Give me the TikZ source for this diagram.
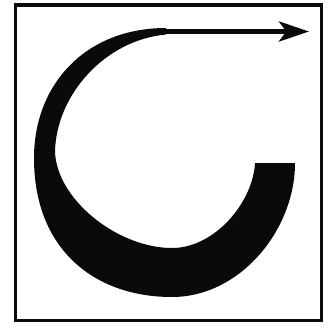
\documentclass[tikz,border=0pt]{standalone}
\usepackage{xcolor}
\usepackage{tikz}
\usetikzlibrary{arrows.meta}
\definecolor{ink}{RGB}{10,10,10}

\begin{document}
\begin{tikzpicture}[x=0.3mm,y=-0.3mm]
  % pixel grid of the scan, y downwards
  \useasboundingbox (0,0) rectangle (335,329);
  \fill[white] (0,0) rectangle (335,329);
  \draw[ink,line width=3pt] (15.5,5) rectangle (321.5,320.5);
  % the crescent: outer rim, flat end, inner rim back to the top
  \fill[ink] (166,28) .. controls (85,28) and (34,85) .. (34,158)
    .. controls (34,250) and (95,297) .. (172,297)
    .. controls (240,297) and (295,230) .. (295,163)
    -- (255,163)
    .. controls (253,202) and (215,248) .. (172,248)
    .. controls (118,248) and (57,200) .. (55,152)
    .. controls (56,95) and (105,40) .. (166,34.5) -- cycle;
  \coordinate (tail) at (160,31.5);
  \coordinate (head) at (309,31.5);
  \draw[ink,line width=4pt,-{Stealth[length=9mm,width=6mm,inset=2.2mm]}] (tail) -- (head);
\end{tikzpicture}
\end{document}
